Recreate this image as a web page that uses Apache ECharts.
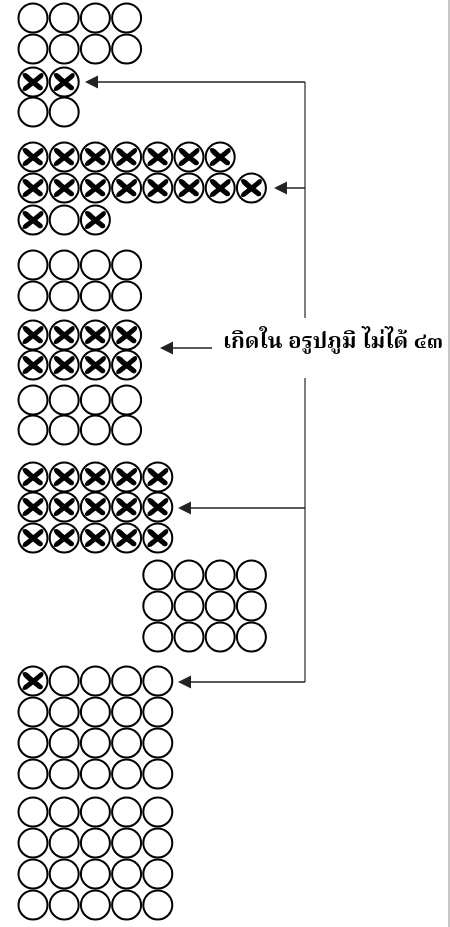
<!DOCTYPE html>
<html>
<head>
<meta charset="utf-8">
<style>html,body{margin:0;padding:0;background:#fff}#chart{width:450px;height:927px}</style>
<script src="https://cdn.jsdelivr.net/npm/echarts@6/dist/echarts.min.js"></script>
</head>
<body>
<div id="chart"></div>
<script>
// x = วงกลมมีกากบาท, o = วงกลมเปล่า
var group1 = ["oooo", "oooo", "xx", "oo"];
var group2 = ["xxxxxxx", "xxxxxxxx", "xox"];
var group3 = ["oooo", "oooo", "xxxx", "xxxx", "oooo", "oooo"];
var group4 = ["xxxxx", "xxxxx", "xxxxx"];
var group5 = ["oooo", "oooo", "oooo"];
var group6 = ["xoooo", "ooooo", "ooooo", "ooooo", "ooooo", "ooooo", "ooooo", "ooooo"];
var labelText = "เกิดใน อรูปภูมิ ไม่ได้ ๔๓";

// layout
var groups = [group1, group2, group3, group4, group5, group6];
var groupCol = [0, 0, 0, 0, 4, 0];
var rowY = [
  [18, 49, 82, 112],
  [157, 188, 220],
  [265, 296, 335, 365, 400, 430],
  [477, 507, 538],
  [575, 606, 637],
  [681, 712, 743, 774, 812, 843, 874, 905]
];
var col0 = 33, colStep = 31.2;
var busX = 305;

var circles = [], crosses = [];
groups.forEach(function (g, gi) {
  g.forEach(function (row, ri) {
    for (var c = 0; c < row.length; c++) {
      var p = [col0 + colStep * (c + groupCol[gi]), rowY[gi][ri]];
      circles.push(p);
      if (row[c] === "x") crosses.push(p);
    }
  });
});

// กากบาทแบบพู่กัน
var crossPath = "path://M2,10 C10,0 24,4 40,24 L92,70 C100,80 90,96 76,88 L26,46 C12,34 0,22 2,10 Z " +
  "M96,8 C102,22 92,30 80,40 L30,84 C20,94 4,98 2,86 C2,74 14,66 24,58 L70,18 C80,8 90,0 96,8 Z";

var half = 6.5;
var plainLines = [
  { coords: [[busX, 318], [busX, 82]] },
  { coords: [[busX, 378], [busX, 682]] }
];
var arrowLines = [
  { coords: [[busX, 82], [85 + half, 82]] },
  { coords: [[busX, 188], [274 + half, 188]] },
  { coords: [[busX, 508], [178 + half, 508]] },
  { coords: [[busX, 682], [178 + half, 682]] },
  { coords: [[212, 348], [160 + half, 348]] }
];

var chart = echarts.init(document.getElementById("chart"));
chart.setOption({
  animation: false,
  backgroundColor: "#fff",
  grid: { left: 0, right: 0, top: 0, bottom: 0 },
  xAxis: { type: "value", min: 0, max: 450, show: false },
  yAxis: { type: "value", min: 0, max: 927, inverse: true, show: false },
  graphic: [
    { type: "line", shape: { x1: 449, y1: 0, x2: 449, y2: 927 }, style: { stroke: "#c8c8c8", lineWidth: 2 } },
    { type: "text", left: 223, top: 333,
      style: { text: labelText, font: 'bold 22px Norasi, "Noto Serif Thai", "Tlwg Typo", serif', fill: "#000" } }
  ],
  series: [
    {
      type: "scatter", data: circles, symbol: "circle", symbolSize: 29, z: 2, silent: true,
      itemStyle: { color: "#fff", borderColor: "#000", borderWidth: 2, opacity: 1 }
    },
    {
      type: "scatter", data: crosses, symbol: crossPath, symbolSize: [21, 18], z: 3, silent: true,
      itemStyle: { color: "#000", opacity: 1 }
    },
    {
      type: "lines", coordinateSystem: "cartesian2d", data: plainLines, silent: true,
      symbol: ["none", "none"], lineStyle: { color: "#555", width: 1.5, opacity: 1 }
    },
    {
      type: "lines", coordinateSystem: "cartesian2d", data: arrowLines, silent: true,
      symbol: ["none", "triangle"], symbolSize: 13, lineStyle: { color: "#222", width: 1.5, opacity: 1 }
    }
  ]
});
</script>
</body>
</html>
